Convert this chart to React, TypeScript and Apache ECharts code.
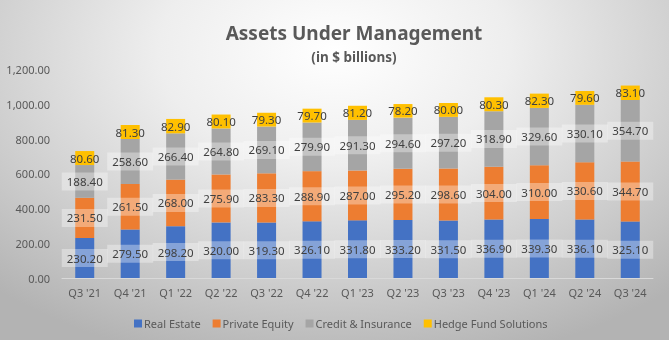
import React, { useEffect, useRef } from "react";
import * as echarts from "echarts";

const categories = ["Q3 '21", "Q4 '21", "Q1 '22", "Q2 '22", "Q3 '22", "Q4 '22", "Q1 '23", "Q2 '23", "Q3 '23", "Q4 '23", "Q1 '24", "Q2 '24", "Q3 '24"];
const realEstate = [230.2, 279.5, 298.2, 320.0, 319.3, 326.1, 331.8, 333.2, 331.5, 336.9, 339.3, 336.1, 325.1];
const privateEquity = [231.5, 261.5, 268.0, 275.9, 283.3, 288.9, 287.0, 295.2, 298.6, 304.0, 310.0, 330.6, 344.7];
const creditInsurance = [188.4, 258.6, 266.4, 264.8, 269.1, 279.9, 291.3, 294.6, 297.2, 318.9, 329.6, 330.1, 354.7];
const hedgeFund = [80.6, 81.3, 82.9, 80.1, 79.3, 79.7, 81.2, 78.2, 80.0, 80.3, 82.3, 79.6, 83.1];

const seriesDefs = [
  { name: "Real Estate", data: realEstate, color: "#4472C4" },
  { name: "Private Equity", data: privateEquity, color: "#ED7D31" },
  { name: "Credit & Insurance", data: creditInsurance, color: "#A5A5A5" },
  { name: "Hedge Fund Solutions", data: hedgeFund, color: "#FFC000" },
];

const FONT = "'Noto Sans', 'Open Sans', sans-serif";

export default function App() {
  const ref = useRef<HTMLDivElement>(null);
  useEffect(() => {
    if (!ref.current) return;
    const chart = echarts.init(ref.current, null, { renderer: "svg" });
    chart.setOption({
      animation: false,
      backgroundColor: "transparent",
      textStyle: { fontFamily: FONT },
      graphic: [
        {
          type: "text",
          x: 354,
          y: 33,
          style: {
            text: "Assets Under Management",
            fill: "#595959",
            font: `bold 19px ${FONT}`,
            textAlign: "center",
            textVerticalAlign: "middle",
          },
        },
        {
          type: "text",
          x: 354,
          y: 57,
          style: {
            text: "(in $ billions)",
            fill: "#595959",
            font: `bold 13.5px ${FONT}`,
            textAlign: "center",
            textVerticalAlign: "middle",
          },
        },
      ],
      grid: { left: 62, right: 16, top: 69.5, bottom: 62, containLabel: false },
      legend: {
        top: 313,
        left: 129,
        itemWidth: 8,
        itemHeight: 8,
        itemGap: 12,
        icon: "rect",
        textStyle: { color: "#595959", fontSize: 11, fontFamily: FONT, padding: [0, 0, 0, -3] },
        data: seriesDefs.map((s) => s.name),
      },
      xAxis: {
        type: "category",
        data: categories,
        axisLine: { lineStyle: { color: "#d9d9d9" } },
        axisTick: { show: false },
        axisLabel: { color: "#595959", fontSize: 11, margin: 9, interval: 0, fontFamily: FONT },
      },
      yAxis: {
        type: "value",
        min: 0,
        max: 1200,
        interval: 200,
        splitLine: { show: false },
        axisLine: { show: false },
        axisTick: { show: false },
        axisLabel: {
          color: "#595959",
          fontSize: 11,
          margin: 12,
          fontFamily: FONT,
          formatter: (v: number) =>
            v.toLocaleString("en-US", { minimumFractionDigits: 2, maximumFractionDigits: 2 }),
        },
      },
      series: seriesDefs.map((s, i) => ({
        name: s.name,
        type: "bar",
        stack: "total",
        barWidth: 19,
        itemStyle: { color: s.color },
        data: s.data,
        label: {
          show: true,
          position: "inside",
          color: "#404040",
          fontSize: 11.5,
          fontFamily: FONT,
          backgroundColor: i === 3 ? "transparent" : "rgba(255,255,255,0.35)",
          padding: [3, 5],
          formatter: (p: any) => Number(p.value).toFixed(2),
        },
      })),
    });
    return () => chart.dispose();
  }, []);
  return (
    <div
      ref={ref}
      style={{
        position: "fixed",
        left: 0,
        top: 0,
        width: 669,
        height: 340,
        background:
          "radial-gradient(ellipse 75% 95% at 50% 15%, #ffffff 0%, #eeeeee 35%, #cfcfcf 70%, #b3b3b3 100%)",
      }}
    />
  );
}
